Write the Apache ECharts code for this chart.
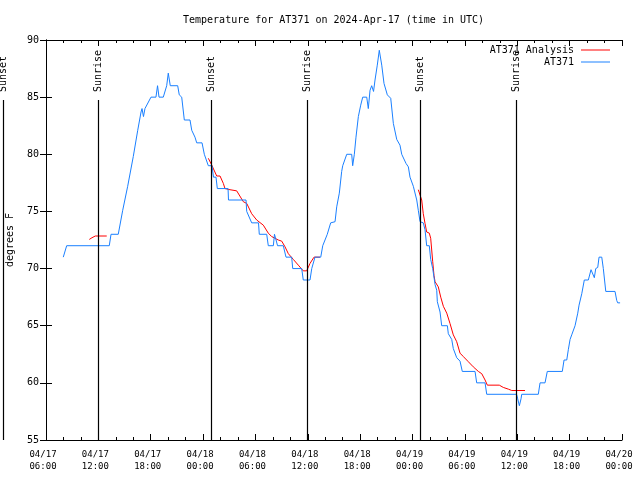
<!DOCTYPE html>
<html><head><meta charset="utf-8">
<script src="https://cdn.jsdelivr.net/npm/echarts@6/dist/echarts.min.js"></script>
<style>html,body{margin:0;padding:0;background:#fff}#c{width:640px;height:480px}</style>
</head><body><div id="c"></div>
<script>
// x values: hours since 2024-04-17 06:00 UTC
const xTickStartLabelDay = 17;
const stationHours = [1.98,2.37,7.25,7.45,8.28,8.79,9.36,10.00,10.51,10.89,11.00,11.17,11.34,11.46,12.03,12.60,12.78,12.95,13.44,13.83,14.01,14.24,15.09,15.27,15.55,15.85,16.50,16.70,17.07,17.27,17.88,18.14,18.60,19.02,19.19,19.48,19.63,20.86,20.91,22.92,23.00,23.57,24.35,24.44,25.29,25.47,26.05,26.18,26.36,26.53,27.19,27.50,28.15,28.27,29.30,29.48,30.25,30.45,30.82,31.48,31.71,31.97,32.23,32.62,33.12,33.31,33.61,33.88,34.00,34.46,35.03,35.14,35.33,35.52,35.79,36.06,36.29,36.75,36.93,37.13,37.32,37.53,37.70,37.96,38.19,38.47,38.73,39.11,39.50,39.80,40.19,40.56,40.76,41.25,41.52,41.71,42.09,42.48,42.66,42.86,43.23,43.43,43.62,43.92,44.08,44.31,44.58,44.77,44.84,45.15,45.34,45.99,46.10,46.49,46.67,47.06,47.44,47.70,49.16,49.35,50.31,50.50,53.92,54.05,54.24,54.43,54.51,56.41,56.61,57.18,57.44,59.16,59.36,59.67,59.85,60.05,60.24,60.62,60.93,61.08,61.39,61.68,62.14,62.45,62.62,62.83,62.99,63.22,63.37,63.68,63.86,64.14,65.20,65.40,65.51,65.78];
const stationTemps = [71,72,72,73,73,75.1,77.2,79.8,82.1,83.7,84,83.3,84,84,85,85,86,85,85,86,87.1,86,86,85.2,85,83,83,82.1,81.5,81,81,80,79,79,78,78,77,77,76,76,75,74,74,73,73,72,72,73,72.5,72,72,71,71,70,70,69,69,70,71,71,72,72.5,73,74,74.1,75.4,76.6,78.5,79,80,80,79,80,81.5,83.3,84.3,85,85,84,85.6,86,85.5,86.5,87.8,89.1,87.8,86.2,85.2,84.9,82.7,81.3,80.8,80,79.2,78.9,78,77.2,76,75.1,74.1,74,73.4,72,72,70.8,70,68.6,68.1,67.1,66.2,65,65,64.3,63.8,63,62.2,61.9,61,61,60,60,59,59,58.6,58,58.6,59,59,60,60,61,61,62,62,62.9,63.8,64.2,65,66.1,66.8,67.8,69,69,69.9,70,69.2,70,70.1,71,71,70,68,68,67.2,67,67];

const analysis1Hours = [4.96,5.27,5.65,6.96];
const analysis1Temps = [72.55,72.7,72.85,72.85];
const analysis2Hours = [18.60,18.99,19.56,19.94,20.32,20.51,21.08,21.85,22.61,23.00,23.57,24.14,24.90,25.47,25.86,26.62,27.01,27.39,27.77,28.34,28.91,29.48,29.87,30.25,30.71,31.40];
const analysis2Temps = [79.65,79.06,78.1,78.1,77.45,77.0,76.9,76.8,75.85,75.7,74.8,74.25,73.8,73.1,72.8,72.5,72.4,71.9,71.3,70.8,70.3,69.8,69.8,70.45,71.0,71.0];
const analysis3Hours = [42.66,43.05,43.23,43.43,43.62,43.92,44.08,44.31,44.46,44.58,44.95,45.23,45.53,45.92,46.29,46.67,47.06,47.44,47.82,48.39,48.96,49.54,49.93,50.31,50.57,51.94,52.40,52.98,53.37,54.89];
const analysis3Temps = [76.9,76.0,74.8,73.95,73.2,73.1,72.65,70.6,69.4,68.85,68.4,67.5,66.7,66.1,65.2,64.2,63.6,62.6,62.3,61.85,61.4,61.0,60.8,60.25,59.8,59.8,59.6,59.45,59.33,59.33];

const sunHours = [-4.93,5.99,18.94,29.94,42.90,53.90];
const sunLabels = ['Sunset','Sunrise','Sunset','Sunrise','Sunset','Sunrise'];

const titleText = 'Temperature for AT371 on 2024-Apr-17 (time in UTC)';
const yAxisName = 'degrees F';
const seriesNames = ['AT371 Analysis','AT371'];

const zip = (a,b) => a.map((v,i)=>[v,b[i]]);
const pad = n => (n<10?'0':'')+n;
const MONO = '"DejaVu Sans Mono", monospace';

const chart = echarts.init(document.getElementById('c'), null, {renderer:'canvas'});
const redLine = {type:'line', name:seriesNames[0], symbol:'none', showSymbol:false, animation:false,
  lineStyle:{color:'#ff0000', width:1}, itemStyle:{color:'#ff0000'}, xAxisIndex:0, yAxisIndex:0, z:2};
const axisCommon = {
  type:'value', min:0, max:66, interval:6,
  axisLine:{show:true, lineStyle:{color:'#000', width:1}},
  axisTick:{show:true, inside:true, length:6, lineStyle:{color:'#000'}},
  minorTick:{show:true, splitNumber:3, length:3, lineStyle:{color:'#000'}},
  splitLine:{show:false}, minorSplitLine:{show:false}
};
chart.setOption({
  animation:false,
  backgroundColor:'#fff',
  title:{text:titleText, left:183, top:15, padding:0, textStyle:{fontFamily:MONO, fontSize:10, fontWeight:'normal', color:'#000'}},
  legend:{data:seriesNames, orient:'vertical', right:30, top:44, padding:0, align:'right', icon:'rect', itemWidth:29, itemHeight:1, itemGap:0,
    textStyle:{fontFamily:MONO, fontSize:10, color:'#000', lineHeight:12, padding:[0,2,0,0]}, selectedMode:false},
  grid:{left:46, top:40, right:18, bottom:40, containLabel:false, outerBoundsMode:'none'},
  xAxis:[
    Object.assign({}, axisCommon, {position:'bottom',
      axisLabel:{show:true, margin:9, fontFamily:MONO, fontSize:9, lineHeight:12, color:'#000', padding:[0,6,0,0],
        formatter: v => { const t = 6 + v; const d = xTickStartLabelDay + Math.floor(t/24); return '04/' + pad(d) + '\n' + pad(t%24) + ':00'; }}}),
    Object.assign({}, axisCommon, {position:'top', axisLabel:{show:false}})
  ],
  yAxis:[
    {type:'value', min:55, max:90, interval:5, position:'left',
      name:yAxisName, nameLocation:'middle', nameGap:31, nameTextStyle:{fontFamily:MONO, fontSize:10, color:'#000'},
      axisLine:{show:true, lineStyle:{color:'#000'}}, axisTick:{show:true, inside:true, length:6, lineStyle:{color:'#000'}},
      axisLabel:{margin:7, fontFamily:MONO, fontSize:10, color:'#000'}, splitLine:{show:false}},
    {type:'value', min:55, max:90, interval:5, position:'right',
      axisLine:{show:true, lineStyle:{color:'#000'}}, axisTick:{show:true, inside:true, length:6, lineStyle:{color:'#000'}},
      axisLabel:{show:false}, splitLine:{show:false}}
  ],
  series:[
    Object.assign({}, redLine, {data:zip(analysis1Hours, analysis1Temps)}),
    Object.assign({}, redLine, {data:zip(analysis2Hours, analysis2Temps)}),
    Object.assign({}, redLine, {data:zip(analysis3Hours, analysis3Temps)}),
    {type:'line', name:seriesNames[1], symbol:'none', showSymbol:false, animation:false,
      lineStyle:{color:'#1a80ff', width:1}, itemStyle:{color:'#1a80ff'}, xAxisIndex:0, yAxisIndex:0, z:3,
      data:zip(stationHours, stationTemps)},
    {type:'custom', name:'sun', silent:true, clip:false, xAxisIndex:0, yAxisIndex:0, z:4,
      data: sunHours.map(h => [h, 60]),
      encode:{x:0, y:1},
      renderItem:(params, api) => {
        const x = Math.round(api.coord([api.value(0), 60])[0]) + 0.5;
        const cs = params.coordSys;
        return {type:'group', children:[
          {type:'line', shape:{x1:x, y1:cs.y+60, x2:x, y2:cs.y+cs.height}, style:{stroke:'#000', lineWidth:1.2}},
          {type:'text', x:x, y:cs.y+52, rotation:Math.PI/2,
            style:{text:sunLabels[params.dataIndex], align:'left', verticalAlign:'middle', font:'10px ' + MONO, fill:'#000'}}
        ]};
      }}
  ]
});
</script></body></html>
